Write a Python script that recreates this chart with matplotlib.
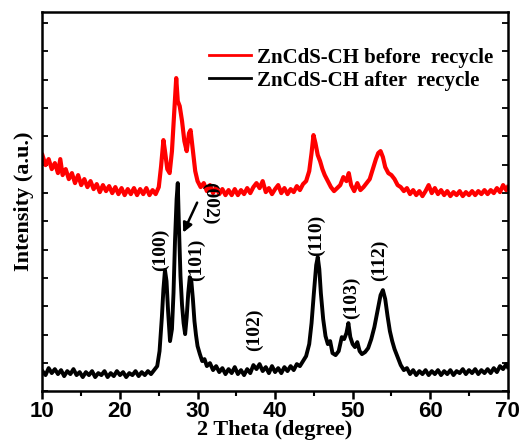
import matplotlib
matplotlib.use("Agg")
import matplotlib.pyplot as plt
from matplotlib.ticker import MultipleLocator

# 2theta / intensity values (intensity in arbitrary units)
black_x = [10.0, 10.4, 10.8, 11.2, 11.6, 12.0, 12.4, 12.8, 13.2, 13.6, 14.0, 14.4, 14.8, 15.2, 15.6,
           16.0, 16.4, 16.8, 17.2, 17.6, 18.0, 18.4, 18.8, 19.2, 19.6, 20.0, 20.4, 20.8, 21.2, 21.6,
           22.0, 22.4, 22.8, 23.2, 23.6, 24.0, 24.4, 24.8, 25.1, 25.4, 25.6, 25.8, 26.0, 26.2, 26.45,
           26.7, 26.9, 27.1, 27.3, 27.45, 27.6, 27.8, 28.0, 28.2, 28.4, 28.6, 28.8, 29.0, 29.2, 29.4,
           29.6, 29.8, 30.0, 30.3, 30.6, 30.9, 31.2, 31.6, 32.0, 32.4, 32.8, 33.2, 33.6, 34.0, 34.4,
           34.8, 35.2, 35.6, 36.0, 36.4, 36.8, 37.2, 37.6, 38.0, 38.4, 38.8, 39.2, 39.6, 40.0, 40.4,
           40.8, 41.2, 41.6, 42.0, 42.4, 42.8, 43.2, 43.6, 44.0, 44.4, 44.7, 45.0, 45.3, 45.5, 45.7,
           45.9, 46.2, 46.5, 46.8, 47.1, 47.4, 47.8, 48.2, 48.6, 48.9, 49.2, 49.45, 49.7, 50.0, 50.3,
           50.6, 50.9, 51.2, 51.6, 52.0, 52.4, 52.8, 53.2, 53.6, 53.9, 54.2, 54.5, 54.8, 55.1, 55.4,
           55.8, 56.2, 56.6, 57.0, 57.4, 57.8, 58.2, 58.6, 59.0, 59.4, 59.8, 60.2, 60.6, 61.0, 61.4,
           61.8, 62.2, 62.6, 63.0, 63.4, 63.8, 64.2, 64.6, 65.0, 65.4, 65.8, 66.2, 66.6, 67.0, 67.4,
           67.8, 68.2, 68.6, 69.0, 69.4, 69.8, 70.0]
black_y = [20, 16, 23, 18, 22, 17, 21, 15, 20, 17, 22, 16, 19, 14, 19,
           16, 20, 14, 18, 16, 20, 14, 18, 15, 20, 16, 19, 14, 18, 16,
           20, 15, 19, 16, 20, 17, 21, 25, 40, 74, 102, 121, 110, 80, 50,
           62, 98, 152, 192, 208, 165, 115, 86, 68, 57, 74, 98, 114, 110, 92,
           70, 56, 45, 37, 30, 32, 25, 28, 21, 25, 19, 23, 17, 22, 18,
           24, 17, 21, 16, 22, 18, 26, 22, 27, 20, 24, 18, 25, 19, 23,
           18, 24, 20, 25, 21, 27, 25, 30, 35, 47, 68, 98, 126, 134, 122,
           98, 72, 55, 47, 50, 38, 36, 40, 54, 52, 58, 68, 54, 47, 44,
           49, 40, 37, 39, 43, 52, 64, 80, 96, 101, 92, 75, 60, 50, 42,
           34, 26, 21, 23, 17, 21, 16, 20, 17, 21, 16, 20, 17, 21, 16,
           20, 17, 21, 16, 20, 18, 22, 17, 21, 18, 22, 17, 21, 18, 22,
           18, 23, 19, 25, 22, 27, 24]

red_x = [10.0, 10.4, 10.8, 11.2, 11.6, 12.0, 12.3, 12.6, 13.0, 13.4, 13.8, 14.2, 14.6, 15.0, 15.4,
         15.8, 16.2, 16.6, 17.0, 17.4, 17.8, 18.2, 18.6, 19.0, 19.4, 19.8, 20.2, 20.6, 21.0, 21.4,
         21.8, 22.2, 22.6, 23.0, 23.4, 23.8, 24.2, 24.6, 25.0, 25.3, 25.6, 25.8, 26.1, 26.4, 26.7,
         27.0, 27.25, 27.45, 27.7, 28.0, 28.3, 28.6, 28.9, 29.1, 29.4, 29.7, 30.0, 30.4, 30.8, 31.2,
         31.6, 32.0, 32.4, 32.8, 33.2, 33.6, 34.0, 34.4, 34.8, 35.2, 35.6, 36.0, 36.4, 36.8, 37.2,
         37.6, 38.0, 38.4, 38.8, 39.2, 39.6, 40.0, 40.4, 40.8, 41.2, 41.6, 42.0, 42.4, 42.8, 43.2,
         43.6, 44.0, 44.4, 44.7, 44.95, 45.2, 45.5, 45.8, 46.1, 46.4, 46.8, 47.2, 47.6, 48.0, 48.4,
         48.8, 49.2, 49.5, 49.8, 50.2, 50.6, 51.0, 51.4, 51.8, 52.2, 52.6, 53.0, 53.3, 53.6, 53.9,
         54.2, 54.6, 55.0, 55.4, 55.8, 56.2, 56.6, 57.0, 57.4, 57.8, 58.2, 58.6, 59.0, 59.4, 59.8,
         60.2, 60.6, 61.0, 61.4, 61.8, 62.2, 62.6, 63.0, 63.4, 63.8, 64.2, 64.6, 65.0, 65.4, 65.8,
         66.2, 66.6, 67.0, 67.4, 67.8, 68.2, 68.6, 69.0, 69.4, 69.8, 70.0]
red_y = [236, 226, 232, 222, 228, 218, 232, 216, 222, 212, 218, 208, 216, 206, 212,
         204, 210, 202, 207, 199, 206, 200, 205, 198, 204, 197, 203, 196, 202, 197,
         203, 196, 202, 197, 203, 196, 201, 197, 204, 225, 251, 240, 222, 218, 240,
         280, 313, 290, 285, 270, 250, 240, 258, 261, 240, 220, 210, 204, 208, 200,
         206, 198, 204, 197, 202, 196, 201, 196, 202, 196, 201, 197, 203, 198, 204,
         208, 203, 210, 199, 203, 197, 202, 206, 198, 203, 197, 202, 199, 205, 201,
         207, 210, 220, 238, 256, 248, 236, 230, 222, 216, 210, 204, 200, 203, 206,
         214, 210, 218, 206, 200, 208, 201, 204, 208, 212, 222, 232, 238, 240, 234,
         224, 218, 216, 212, 206, 204, 200, 203, 197, 201, 196, 200, 195, 200, 206,
         198, 203, 197, 201, 196, 200, 195, 199, 196, 200, 195, 199, 196, 200, 196,
         200, 197, 201, 197, 201, 198, 203, 199, 206, 201, 204]

# peak indices: label, 2theta, height of label centre, rotation
peak_labels = ["(100)", "(002)", "(101)", "(102)", "(110)", "(103)", "(112)"]
peak_x = [25.2, 31.6, 29.9, 37.4, 45.3, 49.8, 53.5]
peak_y = [141, 188, 131, 61, 156, 93, 131]
peak_rot = [90, 270, 90, 90, 90, 90, 90]

serif = "Liberation Serif"
sans = "Liberation Sans"

fig = plt.figure(figsize=(5.24, 4.48), dpi=100)
ax = fig.add_axes([0.081, 0.127, 0.888, 0.846])

ax.plot(red_x, red_y, color="red", lw=3.0, label="ZnCdS-CH before  recycle")
ax.plot(black_x, black_y, color="black", lw=2.8, label="ZnCdS-CH after  recycle")

for lab, px, py, rot in zip(peak_labels, peak_x, peak_y, peak_rot):
    ax.text(px, py, lab, rotation=rot, ha="center", va="center",
            fontsize=14, fontweight="bold", family=serif)

# arrow pointing at the (002) peak
ax.annotate("", xy=(28.0, 156), xytext=(30.1, 191),
            arrowprops=dict(arrowstyle="-|>", color="black", lw=1.8, mutation_scale=14))

ax.set_xlim(10, 70)
ax.set_ylim(0, 379)
ax.xaxis.set_major_locator(MultipleLocator(10))
ax.xaxis.set_minor_locator(MultipleLocator(5))
ax.yaxis.set_major_locator(MultipleLocator(28.3))
ax.set_yticklabels([])
ax.tick_params(axis="x", which="major", direction="out", length=6, width=1.8,
               labelsize=16, pad=1)
ax.tick_params(axis="x", which="minor", direction="out", length=3.5, width=1.5)
ax.tick_params(axis="y", which="major", direction="in", length=4, width=1.3,
               left=True, right=True, labelleft=False)
for lbl in ax.get_xticklabels():
    lbl.set_fontweight("bold")
    lbl.set_family(sans)
for sp in ax.spines.values():
    sp.set_linewidth(1.8)

ax.set_xlabel("2 Theta (degree)", fontsize=16, fontweight="bold", family=serif, labelpad=-1)
ax.set_ylabel("Intensity (a.u.)", fontsize=16, fontweight="bold", family=serif, labelpad=6)

leg = ax.legend(loc="upper right", bbox_to_anchor=(1.0, 0.945), frameon=False,
                prop={"family": serif, "weight": "bold", "size": 15},
                handlelength=2.0, handletextpad=0.3, labelspacing=0.15, borderaxespad=0.3)
for ln in leg.get_lines():
    ln.set_linewidth(2.0)

fig.savefig("out.png", dpi=100)
